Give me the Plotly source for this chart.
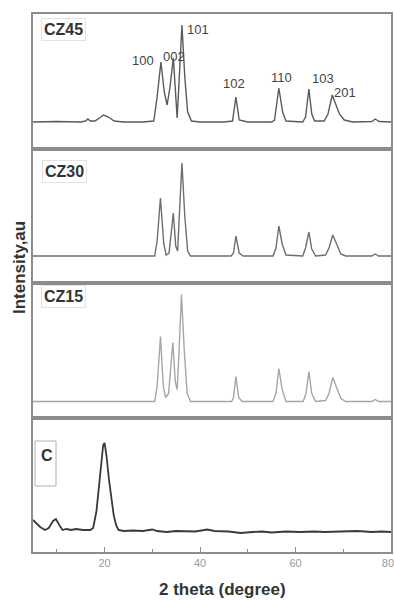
import plotly.graph_objects as go
from plotly.subplots import make_subplots

# ---------------- data (2 theta in degree, intensity in a.u.) ----------------
series_names = ["CZ45", "CZ30", "CZ15", "C"]

two_theta_cz45 = [5, 10, 15, 16, 16.5, 17, 18, 19, 19.8, 20.8, 22, 24, 28, 30.3, 31, 31.8, 32.5, 33.1,
                  33.7, 34.4, 34.9, 35.2, 35.6, 36.2, 36.8, 37.4, 38.2, 40, 45, 46.8, 47.5, 48.2, 50,
                  55, 55.6, 56.5, 57.3, 58, 61.5, 62.1, 62.8, 63.4, 64, 66, 66.8, 67.7, 68.4, 69.2,
                  70.2, 72, 76, 76.7, 77.5, 80]
intensity_cz45 = [0, 0.5, 0, 1, 3, 1, 1, 4, 7, 5, 1, 0, 0, 1, 25, 60, 30, 17,
                  35, 64, 20, 4, 40, 97, 45, 10, 1, 0, 0, 1, 25, 2, 0,
                  0, 2, 34, 10, 1, 0, 5, 33, 8, 1, 1, 8, 27, 18, 8,
                  2, 0, 0.5, 3, 0.5, 0]

two_theta_cz30 = [5, 15, 20, 25, 30.5, 31.0, 31.7, 32.4, 32.9, 33.5, 33.9, 34.4, 34.9, 35.3, 35.7,
                  36.2, 36.8, 37.4, 38, 46.5, 47, 47.5, 48.2, 49, 55.3, 55.9, 56.5, 57.2, 58, 61.5,
                  62.1, 62.8, 63.4, 64.2, 66.3, 67.0, 67.8, 68.6, 69.5, 70.5, 76, 76.7, 77.4, 80]
intensity_cz30 = [0, 0, 0.5, 0, 0, 15, 58, 12, 1, 3, 20, 43, 10, 5, 45,
                  93, 40, 5, 0, 0, 3, 20, 3, 0, 0, 8, 30, 12, 1, 0,
                  8, 24, 7, 0, 1, 8, 21, 12, 2, 0, 0, 2, 0, 0]

two_theta_cz15 = [5, 30.5, 31.0, 31.7, 32.3, 32.8, 33.4, 33.8, 34.3, 34.8, 35.2, 35.6, 36.1, 36.7,
                  37.3, 38, 46.6, 47.0, 47.5, 48.1, 48.8, 55.3, 55.9, 56.5, 57.2, 58, 61.6, 62.2,
                  62.8, 63.4, 64.2, 66.3, 67.0, 67.8, 68.6, 69.5, 70.5, 76, 76.7, 77.4, 80]
intensity_cz15 = [0, 0, 15, 65, 15, 4, 8, 30, 59, 20, 12, 50, 107, 50,
                  8, 0, 0, 4, 25, 4, 0, 0, 8, 33, 12, 0, 0, 8,
                  30, 8, 0, 1, 8, 24, 14, 3, 0, 0, 2, 0, 0]

two_theta_c = [5, 5.6, 6.5, 7.5, 8.3, 9.2, 9.8, 10.5, 11.2, 12, 13, 14, 15.5, 17, 17.6, 18.3, 19.0,
               19.7, 20.0, 20.4, 20.9, 21.4, 21.9, 22.4, 22.9, 24, 26, 28, 30, 31, 33, 35, 37, 39,
               41.5, 43, 46, 48.5, 51, 53, 55, 58, 61, 64, 66, 70, 73, 76, 78, 80]
intensity_c = [11, 8, 4, 1, 3, 10, 12, 6, 1, 2, 1, 2, 1, 1, 3, 20, 55,
               86, 88, 75, 52, 32, 16, 6, 1, 0, 0.5, 0, 1.5, 0, -1, 0, 0, -0.5,
               1.5, 0, -0.5, -2, -1, -0.5, -1.5, -0.5, -1, -0.5, -1, -0.5, 0, -1, -0.5, -1]

peak_labels = ["100", "002", "101", "102", "110", "103", "201"]
x_tick_values = [20, 40, 60, 80]
x_tick_labels = ["20", "40", "60", "80"]
x_minor_ticks = [10, 30, 50, 70]

series_x = [two_theta_cz45, two_theta_cz30, two_theta_cz15, two_theta_c]
series_y = [intensity_cz45, intensity_cz30, intensity_cz15, intensity_c]

# ---------------- styling / layout ----------------
W, H = 394, 600
L, R, T, B = 33, 3, 14, 48
FONT = "Liberation Sans, Arial, sans-serif"
line_colors = ["#5a5a5a", "#6e6e6e", "#a6a6a6", "#3a3a3a"]
line_widths = [1.4, 1.4, 1.4, 1.8]
y_ranges = [[-26.5, 108], [-27, 107.5], [-16, 118.5], [-21, 113.5]]
frame = "#8c8c8c"


def to_paper(xp, yp):
    return (xp - L) / (W - L - R), (H - B - yp) / (H - T - B)


fig = make_subplots(rows=4, cols=1, shared_xaxes=True, vertical_spacing=0)

for i in range(4):
    fig.add_trace(go.Scatter(x=series_x[i], y=series_y[i], mode="lines",
                             line=dict(color=line_colors[i], width=line_widths[i]),
                             name=series_names[i], showlegend=False),
                  row=i + 1, col=1)
    fig.update_yaxes(range=y_ranges[i], showticklabels=False, ticks="", showgrid=False,
                     zeroline=False, showline=True, mirror=True, linecolor=frame,
                     linewidth=1.5, row=i + 1, col=1)
    fig.update_xaxes(range=[5, 80], showgrid=False, zeroline=False, showline=True,
                     mirror=True, linecolor=frame, linewidth=1.5, row=i + 1, col=1)

fig.update_xaxes(showticklabels=False, ticks="", row=1, col=1)
fig.update_xaxes(showticklabels=False, ticks="", row=2, col=1)
fig.update_xaxes(showticklabels=False, ticks="", row=3, col=1)
# the last label is nudged left (trailing no-break spaces) so it stays inside the window
shown_tick_text = x_tick_labels[:-1] + [x_tick_labels[-1] + "\u00a0\u00a0"]
fig.update_xaxes(showticklabels=True, tickvals=x_tick_values, ticktext=shown_tick_text,
                 ticks="inside", ticklen=5,
                 tickcolor=frame, tickfont=dict(family=FONT, size=11, color="#9a9a9a"),
                 ticklabeloverflow="allow",
                 minor=dict(tickvals=x_minor_ticks, ticks="inside", ticklen=3, tickcolor=frame),
                 automargin=False, row=4, col=1)

annotations = []
# panel labels
panel_label_pos = [(63, 30), (64, 171), (63, 296)]
for name, (xp, yp) in zip(series_names[:3], panel_label_pos):
    px_, py_ = to_paper(xp, yp)
    annotations.append(dict(x=px_, y=py_, xref="paper", yref="paper", text="<b>%s</b>" % name,
                            showarrow=False, xanchor="center", yanchor="middle",
                            font=dict(family=FONT, size=16, color="#333333"),
                            bordercolor="#e2e2e2", borderwidth=1, borderpad=2))
cx, cy = to_paper(46.5, 455)
annotations.append(dict(x=cx, y=cy, xref="paper", yref="paper", text="<b>C</b>",
                        showarrow=False, xanchor="center", yanchor="middle",
                        font=dict(family=FONT, size=16, color="#333333")))

# peak labels (CZ45 panel)
peak_label_pos = [(143, 60), (174, 56), (198, 29), (234, 83), (281, 77), (323, 78), (345, 92)]
for lab, (xp, yp) in zip(peak_labels, peak_label_pos):
    px_, py_ = to_paper(xp, yp)
    annotations.append(dict(x=px_, y=py_, xref="paper", yref="paper", text=lab,
                            showarrow=False, xanchor="center", yanchor="middle",
                            font=dict(family=FONT, size=13, color="#444444")))

# axis titles
tx, ty = to_paper(222, 589)
annotations.append(dict(x=tx, y=ty, xref="paper", yref="paper", text="<b>2 theta (degree)</b>",
                        showarrow=False, xanchor="center", yanchor="middle",
                        font=dict(family=FONT, size=17, color="#333333")))
yx, yy = to_paper(19, 268)
annotations.append(dict(x=yx, y=yy, xref="paper", yref="paper", text="<b>Intensity,au</b>",
                        showarrow=False, xanchor="center", yanchor="middle", textangle=-90,
                        font=dict(family=FONT, size=17, color="#333333")))

# box around the C legend
bx0, by0 = to_paper(35, 486)
bx1, by1 = to_paper(56, 441)
shapes = [dict(type="rect", xref="paper", yref="paper", x0=bx0, y0=by0, x1=bx1, y1=by1,
               line=dict(color="#b0b0b0", width=1))]

fig.update_layout(width=W, height=H, margin=dict(l=L, r=R, t=T, b=B, autoexpand=False),
                  paper_bgcolor="white", plot_bgcolor="white", annotations=annotations,
                  shapes=shapes, showlegend=False)

fig.write_html("out.html", config={"displayModeBar": False},
               post_script="document.body.style.margin='0';document.body.style.overflow='hidden';")
